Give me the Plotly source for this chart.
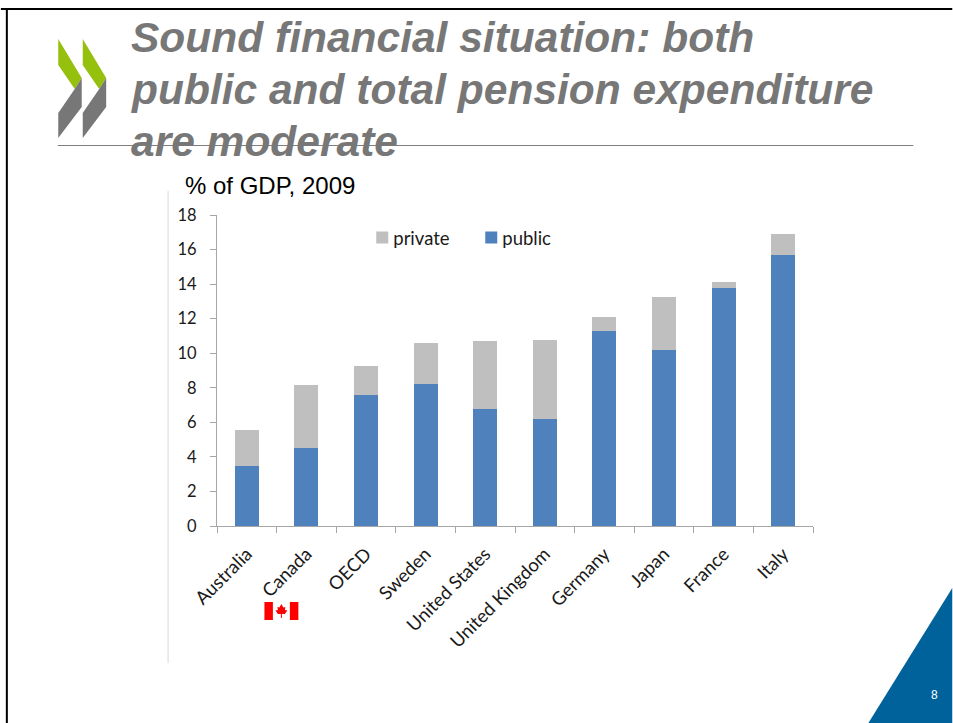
import plotly.graph_objects as go

countries = ["Australia", "Canada", "OECD", "Sweden", "United States",
             "United Kingdom", "Germany", "Japan", "France", "Italy"]
public = [3.5, 4.5, 7.6, 8.2, 6.8, 6.2, 11.3, 10.2, 13.8, 15.7]
private = [2.05, 3.65, 1.65, 2.4, 3.9, 4.55, 0.8, 3.05, 0.3, 1.2]
y_ticks = [0, 2, 4, 6, 8, 10, 12, 14, 16, 18]
title_lines = ["Sound financial situation: both", "public and total pension expenditure", "are moderate"]
subtitle_text = "% of GDP, 2009"
page_number = "8"

W, H = 953, 723
L, R, T, B = 216.5, 813.5, 215, 526


def px(x):
    return (x - L) / (R - L)


def py(y):
    return (B - y) / (B - T)


def poly(points, color):
    path = "M " + " L ".join(f"{px(a):.5f},{py(b):.5f}" for a, b in points) + " Z"
    return dict(type="path", xref="paper", yref="paper", path=path,
                fillcolor=color, line_width=0, layer="above")


def seg(x0, y0, x1, y1, color, width):
    return dict(type="line", xref="paper", yref="paper", x0=px(x0), y0=py(y0),
                x1=px(x1), y1=py(y1), line=dict(color=color, width=width), layer="below")


shapes = [
    seg(0, 9, W, 9, "#000000", 2),
    seg(6, 9, 6, H, "#000000", 2),
    seg(57, 145.5, 914, 145.5, "#7F7F7F", 1),
    seg(167.5, 191, 167.5, 663, "#D9D9D9", 1),
    poly([(953, 588), (953, 723), (869, 723)], "#00629A"),
]
for dx in (0, 24.5):
    shapes.append(poly([(57.5 + dx, 39), (81 + dx, 78), (74 + dx, 89), (57.5 + dx, 65)], "#95C00E"))
    shapes.append(poly([(74 + dx, 89), (81 + dx, 78), (81 + dx, 107), (57.5 + dx, 138), (57.5 + dx, 113)], "#777777"))

# Canadian flag beside its label
shapes.append(poly([(264, 602), (272.5, 602), (272.5, 620), (264, 620)], "#FF0000"))
shapes.append(poly([(289.5, 602), (298, 602), (298, 620), (289.5, 620)], "#FF0000"))
shapes.append(poly([(281, 604), (283, 607.5), (285, 607), (284.5, 610), (287, 610.5), (284.5, 614),
                    (281.5, 614), (281.5, 618), (280.5, 618), (280.5, 614), (277.5, 614), (275, 610.5),
                    (277.5, 610), (277, 607), (279, 607.5)], "#FF0000"))

fig = go.Figure()
fig.add_bar(x=countries, y=public, name="public", marker=dict(color="#4F81BD", line_width=0))
fig.add_bar(x=countries, y=private, name="private", marker=dict(color="#BFBFBF", line_width=0))

y_font = dict(family="Lato, Open Sans, sans-serif", size=16.5, color="#1A1A1A")
x_font = dict(family="Lato, Open Sans, sans-serif", size=18.5, color="#1A1A1A")
annotations = [
    dict(text=line, xref="paper", yref="paper", x=px(128), y=py(38 + 51.5 * i), xanchor="left", yanchor="middle",
         align="left", showarrow=False,
         font=dict(family="Liberation Sans", size=42.5, color="#777777", weight="bold", style="italic"))
    for i, line in enumerate(title_lines)
] + [
    dict(text=subtitle_text, xref="paper", yref="paper", x=px(182), y=py(185.5), xanchor="left", yanchor="middle",
         showarrow=False, font=dict(family="Liberation Sans", size=24, color="#000000")),
    dict(text=page_number, xref="paper", yref="paper", x=px(935), y=py(695), xanchor="center", yanchor="middle",
         showarrow=False, font=dict(family="Liberation Sans", size=12, color="#FFFFFF")),
]

fig.update_layout(
    width=W, height=H, autosize=False,
    margin=dict(l=L, r=W - R, t=T, b=H - B, pad=0),
    paper_bgcolor="#FFFFFF", plot_bgcolor="#FFFFFF",
    barmode="stack", bargap=0.6,
    showlegend=True,
    legend=dict(orientation="h", x=px(362), y=py(238), xanchor="left", yanchor="middle",
                traceorder="reversed", font=x_font, itemwidth=30, entrywidth=64, entrywidthmode="pixels",
                bgcolor="rgba(0,0,0,0)"),
    xaxis=dict(type="category", tickson="boundaries", ticks="outside", ticklen=6, tickcolor="#A6A6A6",
               showline=True, linecolor="#A6A6A6", showgrid=False, tickangle=-45, tickfont=x_font,
               ticklabelstandoff=9, range=[-0.5, 9.5], fixedrange=True),
    yaxis=dict(range=[0, 18], tickvals=y_ticks, ticks="outside", ticklen=6, tickcolor="#A6A6A6",
               showline=True, linecolor="#A6A6A6", showgrid=False, zeroline=False, tickfont=y_font,
               ticklabelstandoff=10, fixedrange=True),
    shapes=shapes, annotations=annotations,
)
fig.write_html("out.html", config=dict(displayModeBar=False),
               post_script="document.body.style.margin='0';document.documentElement.style.overflow='hidden';"
                           "document.querySelectorAll('.legendtext').forEach(function(t){"
                           "t.setAttribute('x', parseFloat(t.getAttribute('x')) - 9);});")
